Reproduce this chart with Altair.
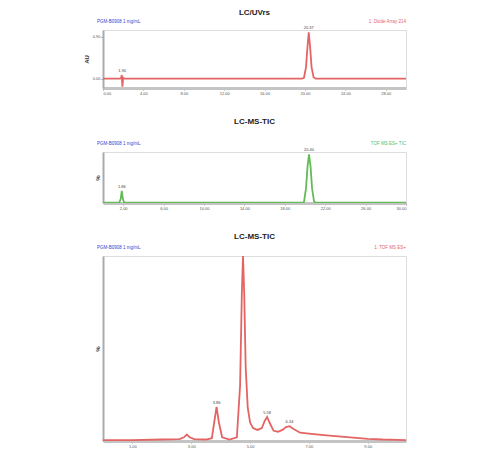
import altair as alt
import pandas as pd

# ---- data ----
uv_time = [0.0, 1.70, 1.80, 1.86, 1.92, 2.00, 2.10, 19.70, 19.90, 20.10, 20.25, 20.37, 20.50, 20.65, 20.85, 21.05, 30.0]
uv_abs = [0.0, 0.0, 0.02, 0.08, -0.17, 0.02, 0.0, 0.0, 0.02, 0.25, 0.70, 1.00, 0.70, 0.25, 0.03, 0.0, 0.0]

tic1_time = [0.0, 1.60, 1.75, 1.86, 1.97, 2.10, 19.70, 19.90, 20.10, 20.25, 20.40, 20.55, 20.70, 20.90, 21.10, 30.0]
tic1_pct = [0.5, 0.5, 8.0, 25.0, 8.0, 0.5, 0.5, 2.0, 30.0, 75.0, 100.0, 75.0, 30.0, 3.0, 0.5, 0.5]

tic2_time = [0.0, 1.00, 2.00, 2.60, 2.75, 2.85, 2.95, 3.10, 3.50, 3.70, 3.78, 3.86, 3.94, 4.05, 4.30, 4.55,
             4.66, 4.72, 4.76, 4.80, 4.85, 4.92, 5.00, 5.10, 5.25, 5.40, 5.50, 5.58, 5.66, 5.80, 5.95, 6.10,
             6.22, 6.34, 6.48, 6.70, 7.00, 7.50, 8.00, 8.50, 9.00, 9.50, 10.00, 10.30]
tic2_pct = [0.5, 0.5, 0.8, 1.0, 2.0, 3.5, 2.0, 1.0, 0.8, 1.5, 10.0, 18.5, 10.0, 2.0, 0.8, 2.0,
            30.0, 80.0, 100.0, 80.0, 40.0, 18.0, 10.0, 7.0, 6.0, 7.0, 11.0, 13.0, 10.0, 5.5, 5.0, 6.0,
            7.5, 8.0, 6.5, 4.5, 4.0, 3.2, 2.5, 1.8, 1.2, 0.8, 0.6, 0.5]

uv_peak_t = [1.90, 20.37]
uv_peak_v = [0.08, 1.00]
tic1_peak_t = [1.86, 20.40]
tic1_peak_v = [25.0, 100.0]
tic2_peak_t = [3.86, 5.58, 6.34]
tic2_peak_v = [18.5, 13.0, 8.0]

uv_ticks = [0, 2, 4, 6, 8, 10, 12, 14, 16, 18, 20, 22, 24, 26, 28, 30]
tic1_ticks = [2, 4, 6, 8, 10, 12, 14, 16, 18, 20, 22, 24, 26, 28, 30]
tic2_ticks = [1, 2, 3, 4, 5, 6, 7, 8, 9]
uv_yticks = [0.0, 0.3, 0.6, 0.9]

W = 303
RED = "#e46464"
GREEN = "#62bb55"
BLUE = "#3344cc"


def panel(times, vals, pt, pv, xdom, ydom, xticks, color, title, ytitle, ltxt, rtxt, rcolor,
          height, yticks, ylabels, toffset):
    df = pd.DataFrame({"t": times, "v": vals})
    pk = pd.DataFrame({"t": pt, "v": pv, "label": [f"{x:.2f}" for x in pt]})
    x = alt.X("t:Q", title=None,
              scale=alt.Scale(domain=xdom, nice=False, zero=False),
              axis=alt.Axis(values=xticks, format=".2f", labelFontSize=4, labelColor="#555",
                            labelOverlap=False,
                            domainColor="#c4c4c4", domainWidth=3, tickColor="#999", tickSize=2,
                            labelPadding=1, grid=False))
    yaxis = alt.Axis(values=yticks, labels=ylabels, format=".2f", labelFontSize=4, labelColor="#555",
                     labelOverlap=False,
                     domainColor="#aaaaaa", domainWidth=2, ticks=ylabels, tickSize=2, tickColor="#999",
                     grid=False, titleFontSize=6, titleFontWeight="bold", titleColor="#333",
                     titlePadding=3, labelPadding=1)
    y = alt.Y("v:Q", title=ytitle, scale=alt.Scale(domain=ydom, nice=False, zero=False), axis=yaxis)
    line = alt.Chart(df).mark_line(color=color, strokeWidth=1.8, clip=True).encode(x=x, y=y)
    lbl = alt.Chart(pk).mark_text(fontSize=4, dy=-4, color="#444").encode(
        x="t:Q", y="v:Q", text="label:N")
    left = alt.Chart(pd.DataFrame({"s": [ltxt]})).mark_text(
        align="left", baseline="middle", fontSize=4.5, color=BLUE).encode(
        x=alt.value(-6), y=alt.value(-8), text="s:N")
    right = alt.Chart(pd.DataFrame({"s": [rtxt]})).mark_text(
        align="right", baseline="middle", fontSize=4.5, color=rcolor).encode(
        x=alt.value(W), y=alt.value(-8), text="s:N")
    return alt.layer(line, lbl, left, right).properties(
        width=W, height=height,
        title=alt.TitleParams(title, fontSize=8, fontWeight="bold", color="#222",
                              font="Liberation Sans", anchor="middle", offset=toffset))


p1 = panel(uv_time, uv_abs, uv_peak_t, uv_peak_v, [0, 30], [-0.2, 1.05], uv_ticks, RED,
           "LC/UVrs", "AU", "PGM-B0908 1 mg/mL", "1: Diode Array 214", RED, 58, uv_yticks, True, 2)
p2 = panel(tic1_time, tic1_pct, tic1_peak_t, tic1_peak_v, [0, 30], [0, 105], tic1_ticks, GREEN,
           "LC-MS-TIC", "%", "PGM-B0908 1 mg/mL", "TOF MS ES+ TIC", GREEN, 51, [0, 100], False, 15)
p3 = panel(tic2_time, tic2_pct, tic2_peak_t, tic2_peak_v, [0, 10.3], [0, 100], tic2_ticks, RED,
           "LC-MS-TIC", "%", "PGM-B0908 1 mg/mL", "1: TOF MS ES+", RED, 185, [0, 100], False, 4)

chart = alt.vconcat(p1, p2, p3, spacing=21).properties(
    padding={"left": 74, "top": 0, "right": 5, "bottom": 0}
).configure_view(stroke=None).configure(font="Liberation Sans")

chart.save("out.html", embed_options={"renderer": "svg", "actions": False})
